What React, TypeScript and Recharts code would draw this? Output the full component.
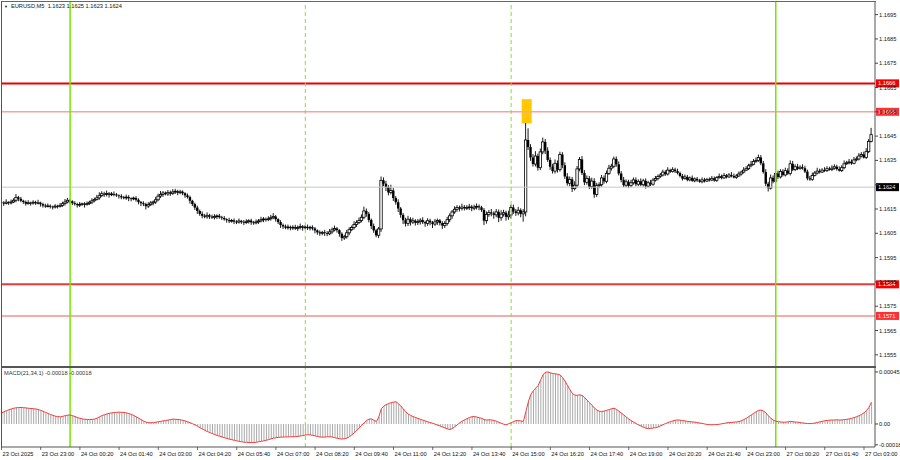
import React from 'react';
import { ComposedChart, Bar, Line, XAxis, YAxis, ReferenceLine, ReferenceArea } from 'recharts';

// EURUSD M5, prices in pips above 1.1600, one value per bar (23 Oct 21:40 .. 27 Oct 03:15)
const closes = [
  17.6, 17.3, 17.8, 17.5, 17.9, 18.6, 19.8, 19.2, 18.4, 17.9,
  17.2, 17.6, 17.4, 17.8, 17.5, 17.6, 17.0, 16.4, 16.1, 16.3,
  16.0, 15.8, 16.2, 16.0, 16.5, 17.2, 17.9, 18.6, 18.2, 17.4,
  17.0, 16.6, 16.9, 17.2, 16.8, 17.3, 17.8, 18.4, 18.9, 19.6,
  20.5, 21.3, 21.0, 21.4, 20.9, 21.2, 21.0, 20.6, 20.3, 19.8,
  19.6, 19.9, 19.4, 19.2, 19.5, 18.8, 17.9, 17.4, 17.0, 16.2,
  16.8, 17.5, 17.9, 18.8, 20.3, 21.0, 21.6, 21.2, 21.8, 21.4,
  22.0, 22.3, 21.7, 22.1, 21.5, 20.6, 19.9, 18.4, 17.0, 15.6,
  14.2, 13.0, 12.2, 11.8, 12.4, 11.9, 11.5, 11.9, 12.2, 11.6,
  11.3, 10.8, 10.4, 10.0, 10.3, 9.8, 9.6, 10.1, 9.7, 9.4,
  9.8, 10.2, 9.5, 9.3, 9.7, 10.1, 10.6, 10.9, 10.6, 11.0,
  11.4, 11.9, 10.8, 9.6, 8.4, 7.8, 7.3, 7.6, 7.2, 7.5,
  7.0, 7.4, 7.8, 7.3, 7.6, 7.2, 7.5, 7.0, 6.2, 5.4,
  5.0, 5.4, 5.1, 4.8, 5.6, 6.4, 7.0, 6.3, 4.8, 3.1,
  3.6, 5.2, 6.5, 7.4, 8.6, 9.4, 10.3, 11.6, 14.2, 13.0,
  10.5, 8.0, 6.2, 4.2, 6.8, 26.8, 25.4, 24.0, 21.8, 22.6,
  19.5, 17.8, 15.2, 12.6, 10.4, 9.0, 10.8, 9.6, 10.2, 9.4,
  9.8, 10.4, 9.6, 9.1, 10.2, 9.5, 8.8, 9.7, 10.3, 9.2,
  8.2, 9.0, 10.6, 12.2, 13.8, 14.9, 15.6, 15.2, 15.8, 15.4,
  15.6, 15.9, 15.3, 15.8, 16.1, 15.7, 14.6, 10.2, 12.8, 13.6,
  13.2, 12.6, 13.8, 11.4, 12.9, 13.5, 11.8, 12.5, 15.6, 14.0,
  13.4, 14.5, 13.0, 13.8, 43.4, 40.5, 36.2, 33.5, 36.8, 32.0,
  38.5, 42.6, 39.0, 35.2, 32.4, 30.6, 33.8, 31.2, 37.4, 33.0,
  28.4, 25.6, 27.2, 23.4, 24.8, 31.5, 35.4, 29.8, 26.0, 27.6,
  24.2, 26.5, 21.0, 24.6, 25.0, 27.8, 26.4, 29.6, 31.8, 32.6,
  35.6, 33.4, 29.6, 27.0, 24.8, 26.2, 24.6, 25.8, 27.0, 25.2,
  26.4, 25.0, 26.6, 24.4, 25.8, 25.2, 26.9, 27.6, 28.4, 29.0,
  30.2, 29.4, 31.0, 30.4, 31.2, 30.6, 29.8, 28.6, 27.5, 28.2,
  27.0, 27.8, 26.6, 27.4, 26.8, 26.2, 27.0, 26.5, 27.2, 26.9,
  27.6, 26.8, 27.9, 28.4, 27.8, 28.8, 28.2, 29.0, 28.6, 28.0,
  28.6, 29.4, 30.2, 31.0, 31.6, 32.8, 33.4, 34.6, 35.0, 36.2,
  33.8, 30.2, 25.4, 23.6, 27.8, 26.4, 29.6, 28.2, 30.4, 29.0,
  30.8, 29.6, 33.6, 31.2, 32.4, 31.6, 32.2, 31.8, 30.4, 27.6,
  27.2, 28.8, 29.8, 30.6, 30.2, 31.0, 30.8, 31.6, 31.2, 31.8,
  32.4, 31.4, 30.8, 32.0, 33.6, 34.0, 34.4, 33.8, 35.2, 35.6,
  36.8, 37.4, 36.2, 38.6, 42.8, 45.6,
];
const firstOpen = 17.9;

// wick lengths beyond the body, in fifths of a pip
const wickUp = [
  4, 3, 6, 2, 5, 4, 7, 3, 4, 2,
  3, 5, 2, 4, 3, 6, 2, 3, 4, 5,
  3, 2, 4, 3, 5, 4, 6, 5, 3, 2,
  4, 3, 5, 2, 3, 4, 3, 5, 4, 6,
  7, 5, 4, 6, 3, 4, 5, 3, 2, 4,
  3, 5, 4, 2, 3, 4, 3, 2, 4, 3,
  5, 4, 3, 6, 5, 7, 4, 3, 5, 4,
  6, 5, 3, 4, 3, 2, 4, 3, 2, 3,
  4, 3, 5, 4, 6, 3, 4, 5, 3, 4,
  3, 4, 2, 5, 3, 4, 3, 5, 2, 4,
  5, 3, 4, 3, 5, 4, 6, 4, 3, 5,
  6, 7, 3, 2, 4, 3, 4, 5, 3, 4,
  5, 4, 6, 3, 4, 5, 3, 4, 3, 2,
  4, 3, 5, 4, 6, 5, 6, 3, 2, 3,
  4, 6, 5, 4, 7, 5, 6, 6, 9, 5,
  4, 3, 5, 3, 4, 8, 6, 6, 4, 12,
  5, 4, 6, 3, 4, 5, 7, 4, 6, 3,
  5, 4, 6, 3, 5, 4, 3, 6, 4, 3,
  4, 5, 6, 5, 4, 6, 5, 4, 7, 4,
  5, 6, 4, 5, 6, 4, 3, 4, 6, 5,
  7, 4, 6, 5, 8, 6, 4, 9, 6, 6,
  5, 7, 4, 6, 35, 24, 6, 7, 10, 5,
  7, 9, 6, 7, 5, 6, 8, 6, 6, 5,
  6, 7, 6, 5, 8, 6, 5, 7, 6, 6,
  5, 7, 6, 6, 5, 6, 5, 6, 7, 5,
  5, 5, 6, 5, 6, 5, 4, 6, 5, 5,
  4, 6, 4, 5, 4, 6, 4, 5, 4, 4,
  5, 4, 6, 3, 5, 4, 5, 3, 4, 5,
  4, 3, 5, 3, 4, 3, 5, 4, 3, 4,
  5, 4, 3, 6, 4, 5, 3, 4, 6, 5,
  4, 5, 3, 6, 5, 4, 7, 5, 6, 6,
  5, 5, 6, 4, 7, 5, 5, 6, 5, 5,
  6, 5, 7, 6, 5, 6, 4, 6, 5, 4,
  5, 6, 4, 7, 5, 4, 6, 5, 4, 6,
  5, 4, 6, 5, 7, 4, 6, 5, 6, 5,
  6, 5, 6, 7, 5, 14,
];
const wickDn = [
  3, 5, 2, 4, 3, 2, 4, 5, 3, 4,
  4, 2, 5, 3, 4, 3, 5, 4, 3, 2,
  4, 5, 3, 4, 2, 3, 4, 3, 5, 4,
  3, 5, 4, 3, 6, 2, 3, 4, 3, 2,
  4, 3, 5, 4, 6, 3, 4, 3, 5, 4,
  3, 4, 6, 5, 3, 4, 5, 6, 4, 7,
  4, 3, 5, 4, 3, 4, 5, 3, 4, 5,
  3, 4, 5, 3, 4, 5, 3, 6, 4, 5,
  6, 4, 5, 3, 4, 5, 3, 4, 5, 3,
  4, 3, 5, 4, 3, 5, 4, 3, 4, 5,
  3, 4, 5, 4, 3, 4, 3, 5, 4, 3,
  4, 3, 5, 4, 6, 5, 3, 4, 5, 4,
  3, 5, 4, 6, 3, 4, 5, 4, 6, 5,
  5, 4, 6, 5, 3, 4, 3, 5, 6, 6,
  4, 4, 5, 3, 4, 5, 3, 4, 4, 6,
  5, 6, 5, 4, 6, 6, 5, 8, 6, 4,
  6, 5, 7, 6, 8, 6, 5, 7, 4, 6,
  5, 6, 4, 7, 5, 6, 8, 4, 6, 5,
  7, 5, 4, 5, 6, 4, 5, 6, 4, 5,
  4, 5, 6, 4, 5, 6, 4, 9, 6, 5,
  6, 8, 5, 9, 6, 5, 8, 6, 7, 5,
  6, 5, 7, 16, 9, 6, 7, 5, 5, 6,
  5, 5, 7, 4, 6, 5, 5, 6, 4, 6,
  5, 5, 6, 7, 4, 5, 5, 4, 6, 5,
  5, 4, 7, 5, 5, 4, 5, 4, 3, 5,
  4, 5, 4, 5, 4, 4, 5, 3, 4, 4,
  4, 3, 4, 5, 3, 4, 3, 3, 4, 3,
  3, 4, 3, 3, 2, 4, 3, 3, 4, 2,
  3, 3, 2, 3, 3, 2, 3, 3, 2, 3,
  2, 3, 3, 2, 3, 2, 3, 2, 3, 2,
  3, 2, 3, 3, 2, 3, 3, 2, 3, 3,
  4, 3, 5, 7, 3, 4, 3, 4, 3, 3,
  3, 3, 4, 3, 3, 3, 2, 3, 3, 4,
  3, 3, 2, 3, 3, 2, 3, 3, 2, 3,
  3, 3, 2, 3, 3, 2, 3, 3, 2, 3,
  3, 3, 2, 3, 3, 2,
];

// MACD(21,34,1) main value per bar, in units of 0.00001
const macd = [
  9.5, 10.5, 11.5, 12.3, 13.0, 13.6, 14.0, 14.2, 14.3, 14.1,
  13.9, 13.6, 13.4, 13.2, 13.0, 12.6, 11.8, 10.9, 10.0, 9.1,
  8.2, 7.4, 6.8, 6.3, 6.2, 6.6, 7.2, 7.6, 7.8, 7.2,
  6.4, 5.6, 4.9, 4.4, 4.1, 3.9, 3.8, 4.0, 4.2, 5.0,
  6.2, 7.2, 8.0, 8.7, 9.2, 9.6, 9.9, 10.1, 10.2, 10.1,
  9.9, 9.6, 9.0, 8.2, 7.3, 6.2, 5.0, 3.8, 2.6, 1.6,
  1.2, 1.0, 1.2, 1.5, 1.9, 2.3, 2.7, 3.0, 3.4, 3.8,
  4.2, 4.1, 3.9, 3.6, 3.2, 2.6, 1.9, 1.1, 0.2, -0.8,
  -2.0, -3.2, -4.4, -5.5, -6.5, -7.4, -8.3, -9.1, -9.9, -10.6,
  -11.2, -11.9, -12.5, -13.1, -13.6, -14.1, -14.6, -15.0, -15.4, -15.7,
  -15.9, -16.0, -16.1, -16.0, -15.8, -15.4, -15.0, -14.6, -14.1, -13.5,
  -12.9, -12.3, -11.9, -11.6, -11.4, -11.3, -11.2, -11.2, -11.1, -11.0,
  -10.9, -10.7, -10.4, -10.0, -9.6, -9.3, -9.4, -9.8, -10.3, -10.8,
  -11.2, -11.4, -11.3, -11.1, -11.0, -11.3, -11.8, -12.3, -12.8, -13.0,
  -12.8, -12.2, -11.0, -9.4, -7.6, -5.6, -3.4, -1.2, 1.0, 3.0,
  4.2, 4.4, 3.2, 2.0, 6.0, 13.2, 15.4, 16.8, 17.6, 18.4,
  18.9, 19.2, 17.6, 15.4, 13.0, 10.6, 8.6, 7.4, 6.4, 5.6,
  4.8, 4.0, 3.3, 2.6, 1.9, 1.2, 0.6, -0.2, -1.0, -1.8,
  -2.6, -3.4, -4.2, -4.8, -4.0, -2.4, -0.8, 1.0, 2.4, 3.6,
  4.6, 5.6, 6.3, 6.4, 6.0, 5.4, 4.9, 3.8, 3.4, 3.6,
  3.5, 3.0, 2.4, 1.4, 0.6, -0.2, -0.8, 0.2, 1.0, 2.2,
  2.8, 3.0, 2.6, 2.2, 10.5, 19.0, 25.4, 28.6, 31.0, 33.2,
  37.8, 42.4, 44.8, 45.0, 44.2, 43.6, 43.4, 43.0, 42.4, 40.2,
  37.0, 33.4, 29.6, 26.4, 25.0, 24.8, 25.2, 24.6, 22.8, 20.6,
  18.4, 16.2, 13.8, 12.0, 11.0, 10.8, 11.2, 11.8, 12.4, 13.2,
  13.6, 12.6, 11.0, 9.4, 7.8, 6.0, 4.4, 2.9, 1.6, 0.4,
  -0.8, -1.8, -2.8, -3.6, -4.0, -3.8, -3.5, -3.2, -2.6, -1.6,
  -0.6, 0.4, 1.2, 2.0, 2.6, 3.2, 3.5, 3.3, 3.0, 2.6,
  2.2, 2.0, 1.8, 1.6, 1.2, 0.8, 0.5, 0.0, -0.4, -0.6,
  -0.7, -0.6, -0.5, -0.2, 0.2, 0.6, 1.0, 1.2, 1.4, 1.6,
  1.8, 2.1, 2.8, 3.8, 5.0, 6.4, 7.8, 9.2, 10.6, 11.8,
  12.0, 11.2, 9.6, 7.0, 5.0, 3.4, 2.4, 2.0, 1.8, 1.5,
  1.6, 1.8, 2.2, 2.0, 1.7, 1.5, 1.2, 0.9, 0.6, 0.4,
  0.3, 0.5, 0.8, 1.3, 1.8, 2.3, 2.8, 3.1, 3.3, 3.4,
  3.5, 3.6, 3.4, 3.5, 3.8, 4.0, 4.4, 4.9, 5.5, 6.3,
  7.2, 8.2, 9.6, 11.6, 14.2, 18.8,
];

const timeLabels = [
  '23 Oct 2025', '23 Oct 23:00', '24 Oct 00:20', '24 Oct 01:40', '24 Oct 03:00', '24 Oct 04:20',
  '24 Oct 05:40', '24 Oct 07:00', '24 Oct 08:20', '24 Oct 09:40', '24 Oct 11:00', '24 Oct 12:20',
  '24 Oct 13:40', '24 Oct 15:00', '24 Oct 16:20', '24 Oct 17:40', '24 Oct 19:00', '24 Oct 20:20',
  '24 Oct 21:40', '24 Oct 23:00', '27 Oct 00:20', '27 Oct 01:40', '27 Oct 03:00',
];
const timeTickIdx = [0, 16, 32, 48, 64, 80, 96, 112, 128, 144, 160, 176, 192, 208, 224, 240, 256, 272, 288, 304, 320, 336, 352];

const priceTicks = [-45, -35, -25, -15, -5, 5, 15, 25, 35, 45, 55, 65, 75, 85, 95];
const macdTicks = [-18, 0, 45];

// horizontal levels (pips above 1.1600) and their tags
const levelPips = [66.7, 55, -16, -29];
const levelText = ['1.1666', '1.1655', '1.1584', '1.1571'];
const currentPips = 24;
const currentText = '1.1624';

// session separators (bar index) and the marked box on the breakout bar
const dayLines = [28, 316];
const sessionLines = [124, 208];
const boxBars = [212.3, 216.4];
const boxPips = [50.2, 60.2];

const FONT = '"Liberation Sans", Arial, sans-serif';
const FS = 5.7;
const LEVEL_COLORS = ['#e80000', '#f5a3a3', '#e83a3a', '#f29090'];
const LEVEL_WIDTHS = [2, 1.5, 2, 1.5];

const rows = closes.map((c, i) => {
  const o = i === 0 ? firstOpen : closes[i - 1];
  const hi = Math.max(o, c) + wickUp[i] / 5;
  const lo = Math.min(o, c) - wickDn[i] / 5;
  return { i, o, c, range: [lo, hi] };
});
const macdRows = macd.map((m, i) => ({ i, m }));

const X_DOMAIN: [number, number] = [-0.2, 356.5];

function Candle(props: any) {
  const { x, y, width, height, payload } = props;
  if (!payload || x == null || y == null) return null;
  const [lo, hi] = payload.range;
  const top = Math.min(y, y + height);
  const h = Math.abs(height);
  const k = hi - lo > 0 ? h / (hi - lo) : 0;
  const cx = x + width / 2;
  const yo = top + (hi - payload.o) * k;
  const yc = top + (hi - payload.c) * k;
  const bull = payload.c >= payload.o;
  return (
    <g>
      <line x1={cx} x2={cx} y1={top} y2={top + h} stroke="#000" strokeWidth={0.9} />
      <rect
        x={cx - 1.2}
        y={Math.min(yo, yc)}
        width={2.4}
        height={Math.max(Math.abs(yo - yc), 0.8)}
        fill={bull ? '#fff' : '#000'}
        stroke="#000"
        strokeWidth={bull ? 0.8 : 0}
      />
    </g>
  );
}

function PriceTag({ viewBox, text, bg }: any) {
  if (!viewBox) return null;
  const x = viewBox.x + viewBox.width + 1;
  const y = viewBox.y;
  return (
    <g>
      <rect x={x} y={y - 4} width={23} height={8} fill={bg} />
      <text x={x + 2} y={y + 2.1} fontSize={FS} fill="#fff" fontFamily={FONT}>{text}</text>
    </g>
  );
}

function TimeTick({ x, y, payload }: any) {
  const k = timeTickIdx.indexOf(payload.value);
  return (
    <g>
      <line x1={x} x2={x} y1={y} y2={y + 3} stroke="#444" strokeWidth={0.8} />
      <text x={x + 1} y={y + 9} fontSize={FS} fill="#111" fontFamily={FONT}>{k >= 0 ? timeLabels[k] : ''}</text>
    </g>
  );
}

const fmtPrice = (v: number) => (1.16 + v / 10000).toFixed(4);
const fmtMacd = (v: number) => (v === 0 ? '0.00' : (v / 100000).toFixed(5));

export default function App() {
  return (
    <div style={{ position: 'absolute', left: 0, top: 0, width: 900, height: 460, background: '#fff', fontFamily: FONT }}>
      <div style={{ position: 'absolute', left: 0, top: 0 }}>
        <ComposedChart width={900} height={367} data={rows} margin={{ top: 1, right: 0, bottom: 1, left: 1 }}>
          <XAxis dataKey="i" type="number" domain={X_DOMAIN} hide allowDataOverflow />
          <YAxis
            orientation="right"
            width={25}
            type="number"
            domain={[-49.6, 100.6]}
            ticks={priceTicks}
            tickFormatter={fmtPrice}
            interval={0}
            allowDataOverflow
            axisLine={{ stroke: '#555' }}
            tickLine={{ stroke: '#444' }}
            tickSize={3}
            tickMargin={1}
            tick={{ fontSize: FS, fill: '#111', fontFamily: FONT }}
          />
          <ReferenceArea x1={boxBars[0]} x2={boxBars[1]} y1={boxPips[0]} y2={boxPips[1]} fill="#ffc800" fillOpacity={1} stroke="none" />
          <ReferenceLine y={currentPips} stroke="#c8c8c8" strokeWidth={1} label={<PriceTag text={currentText} bg="#000" />} />
          {levelPips.map((p, k) => (
            <ReferenceLine key={k} y={p} stroke={LEVEL_COLORS[k]} strokeWidth={LEVEL_WIDTHS[k]} label={<PriceTag text={levelText[k]} bg={k % 2 === 0 ? '#f00000' : '#ff3030'} />} />
          ))}
          {dayLines.map((d) => (
            <ReferenceLine key={'d' + d} x={d} stroke="#77e600" strokeWidth={1.5} />
          ))}
          {sessionLines.map((d) => (
            <ReferenceLine key={'s' + d} x={d} stroke="#86e030" strokeWidth={1} strokeDasharray="4 3" />
          ))}
          <Bar dataKey="range" shape={Candle} barSize={2} isAnimationActive={false} />
        </ComposedChart>
      </div>
      <div style={{ position: 'absolute', left: 0, top: 367 }}>
        <ComposedChart width={900} height={93} data={macdRows} margin={{ top: 1, right: 0, bottom: 0, left: 1 }}>
          <XAxis
            dataKey="i"
            type="number"
            domain={X_DOMAIN}
            ticks={timeTickIdx}
            interval={0}
            allowDataOverflow
            height={13}
            axisLine={{ stroke: '#555' }}
            tickLine={false}
            tickSize={0}
            tickMargin={0}
            tick={<TimeTick />}
          />
          <YAxis
            orientation="right"
            width={25}
            type="number"
            domain={[-19.9, 48.4]}
            ticks={macdTicks}
            tickFormatter={fmtMacd}
            interval={0}
            allowDataOverflow
            axisLine={{ stroke: '#555' }}
            tickLine={{ stroke: '#444' }}
            tickSize={3}
            tickMargin={1}
            tick={{ fontSize: FS, fill: '#111', fontFamily: FONT }}
          />
          {dayLines.map((d) => (
            <ReferenceLine key={'d' + d} x={d} stroke="#77e600" strokeWidth={1.5} />
          ))}
          {sessionLines.map((d) => (
            <ReferenceLine key={'s' + d} x={d} stroke="#86e030" strokeWidth={1} strokeDasharray="4 3" />
          ))}
          <Bar dataKey="m" fill="#a9a9a9" barSize={1} isAnimationActive={false} />
          <Line dataKey="m" type="linear" stroke="#f23c3c" strokeWidth={1} dot={false} isAnimationActive={false} />
        </ComposedChart>
      </div>
      {/* panel frames */}
      <div style={{ position: 'absolute', left: 1, top: 1, width: 874, height: 364, borderLeft: '1px solid #555', borderTop: '1px solid #666', pointerEvents: 'none' }} />
      <div style={{ position: 'absolute', left: 1, top: 366, width: 875, height: 2, background: '#555', pointerEvents: 'none' }} />
      <div style={{ position: 'absolute', left: 1, top: 368, width: 1, height: 79, background: '#555', pointerEvents: 'none' }} />
      <div style={{ position: 'absolute', left: 4, top: 3, fontSize: FS, color: '#111', whiteSpace: 'nowrap', lineHeight: '7px' }}>
        <span style={{ fontSize: 4, marginRight: 3 }}>▼</span>EURUSD,M5&nbsp;&nbsp;1.1623 1.1625 1.1623 1.1624
      </div>
      <div style={{ position: 'absolute', left: 4, top: 370, fontSize: FS, color: '#333', whiteSpace: 'nowrap', lineHeight: '7px' }}>
        MACD(21,34,1) -0.00018 -0.00018
      </div>
    </div>
  );
}
